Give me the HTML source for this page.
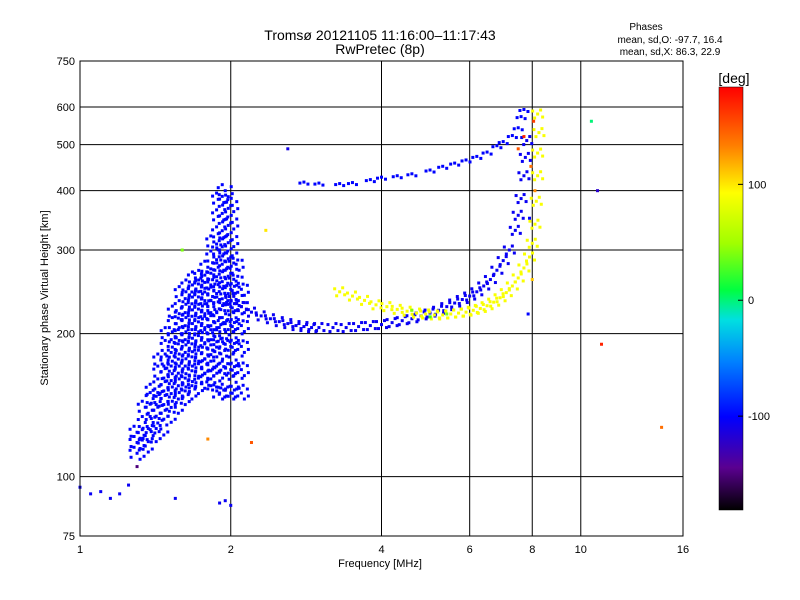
<!DOCTYPE html>
<html><head><meta charset="utf-8"><style>
body{margin:0;background:#fff}
svg{display:block;font-family:"Liberation Sans",sans-serif}
</style></head><body>
<svg id="c" width="800" height="600" viewBox="0 0 800 600">
<defs><linearGradient id="cb" x1="0" y1="1" x2="0" y2="0">
<stop offset="0" stop-color="#000"/><stop offset="0.1" stop-color="#5a0090"/><stop offset="0.22" stop-color="#0000ff"/><stop offset="0.35" stop-color="#0080ff"/><stop offset="0.45" stop-color="#00e0e0"/><stop offset="0.52" stop-color="#00ff40"/><stop offset="0.63" stop-color="#a0ff00"/><stop offset="0.75" stop-color="#ffff00"/><stop offset="0.86" stop-color="#ff8000"/><stop offset="1" stop-color="#ff0000"/>
</linearGradient></defs>
<text x="380" y="40" font-size="14" text-anchor="middle">Tromsø 20121105 11:16:00–11:17:43</text>
<text x="380" y="54" font-size="14" text-anchor="middle">RwPretec (8p)</text>
<g font-size="10" text-anchor="middle">
<text x="646" y="30">Phases</text>
<text x="670" y="43">mean, sd,O: -97.7, 16.4</text>
<text x="670" y="55">mean, sd,X:  86.3, 22.9</text>
</g>
<g id="grid"></g>
<g id="pts"></g>
<rect x="80" y="61" width="603" height="475" fill="none" stroke="#000"/>
<g id="ticks" font-size="11"></g>
<text x="380" y="567" font-size="11" text-anchor="middle">Frequency [MHz]</text>
<text transform="translate(48,298) rotate(-90)" font-size="11" text-anchor="middle">Stationary phase Virtual Height [km]</text>
<rect x="719" y="87" width="24" height="423" fill="url(#cb)" stroke="#000" stroke-width="0.5"/>
<text x="734" y="83" font-size="14" text-anchor="middle">[deg]</text>
<g id="cbt" font-size="11"></g>
</svg>
<script>
const xTicks=[1,2,4,6,8,10,16];
const yTicks=[75,100,200,300,400,500,600,750];
const xGrid=[2,4,6,8,10];
const yGrid=[100,200,300,400,500,600];
const cbTicks=[100,0,-100];
const blobF=[1.3,1.35,1.4,1.45,1.5,1.55,1.6,1.65,1.7,1.75,1.8,1.85,1.9,1.95,2.0,2.05,2.1];
const blobH=[[112,118,124],[116,122,130,140],[122,130,138,146,152],[126,136,146,156,166,176],[134,144,154,164,176,188,200],[140,150,160,170,182,196,210,222],[146,156,166,176,188,200,214,228,244],[150,160,172,184,196,210,224,238,252],[154,166,178,190,204,218,232,246,262],[158,170,182,196,210,224,238,252,264],[160,172,186,200,214,228,242,258,276],[156,170,184,198,212,228,246,266,290,312],[150,166,182,198,216,236,256,278,300,326,354,384],[152,170,190,210,230,250,272,296,320,348,378,400],[150,168,188,208,228,248,268,290,314,342,372],[158,176,196,216,236,258,280],[150,168,188,208,228,248]];
const lowF=[2.0,2.1,2.2,2.3,2.4,2.5,2.6,2.7,2.8,2.9,3.0,3.2,3.4,3.6,3.8,4.0,4.2,4.4,4.6,4.8,5.0,5.2,5.4,5.6,5.8,6.0,6.2,6.4,6.6,6.8,7.0,7.2,7.4,7.5,7.6,7.7,7.75,7.8];
const lowH=[235,228,222,218,215,212,210,208,207,206,206,206,206,207,208,209,211,213,215,218,221,224,228,232,236,240,245,252,260,272,285,300,330,355,385,430,470,510];
const yelF=[3.3,3.5,3.7,3.9,4.1,4.3,4.5,4.7,4.9,5.1,5.3,5.5,5.7,5.9,6.1,6.3,6.5,6.7,6.9,7.1,7.3,7.5,7.7,7.9,8.0,8.1,8.15,8.2,8.2,8.25,8.2];
const yelH=[245,240,235,230,228,225,223,221,220,219,219,220,221,222,224,226,229,233,238,244,252,262,275,290,310,340,380,430,480,530,580];
const upF=[2.8,3.0,3.3,3.5,3.8,4.0,4.3,4.6,5.0,5.3,5.6,5.9,6.2,6.5,6.8,7.0,7.3,7.5,7.6,7.7];
const upH=[415,413,412,414,420,425,428,432,440,448,455,462,470,480,495,505,520,540,570,590];
const miscF=[1.0,1.05,1.1,1.15,1.2,1.25,1.9,1.95,2.0,1.55,2.6,2.35,1.6,1.3,1.8,2.2,7.9,8.0,7.85,8.1,7.95,8.05,10.5,11,10.8,14.5,7.5,7.7,4.6,5.0,5.4];
const miscH=[95,92,93,90,92,96,88,89,87,90,490,330,300,105,120,118,350,260,220,400,450,560,560,190,400,127,490,520,224,217,220];
const miscP=[-105,-105,-105,-105,-105,-105,-105,-105,-105,-105,-110,100,40,-150,130,150,-100,110,-100,130,140,160,0,170,-120,140,150,170,40,20,40];
const blobP=-100, lowP=-105, yelP=90, upP=-100;

const X=f=>80+150.75*Math.log2(f);
const Y=h=>536-475*Math.log10(h/75);
const stops=[[0,[0,0,0]],[0.1,[90,0,144]],[0.22,[0,0,255]],[0.35,[0,128,255]],[0.45,[0,224,224]],[0.52,[0,255,64]],[0.63,[160,255,0]],[0.75,[255,255,0]],[0.86,[255,128,0]],[1,[255,0,0]]];
function col(p){let t=(p+181)/365;t=Math.max(0,Math.min(1,t));for(let i=1;i<stops.length;i++){if(t<=stops[i][0]){const a=stops[i-1],b=stops[i],u=(t-a[0])/(b[0]-a[0]);return 'rgb('+a[1].map((v,k)=>Math.round(v+(b[1][k]-v)*u)).join(',')+')';}}return 'red';}
const NS='http://www.w3.org/2000/svg';
function mk(tag,attrs,parent){const e=document.createElementNS(NS,tag);for(const k in attrs)e.setAttribute(k,attrs[k]);parent.appendChild(e);return e;}
const g=document.getElementById('grid'),pts=document.getElementById('pts'),tk=document.getElementById('ticks'),cbt=document.getElementById('cbt');
xGrid.forEach(v=>{const e=mk('line',{x1:X(v),x2:X(v),y1:61,y2:536,stroke:'#000'},g);

});
yGrid.forEach(v=>{const e=mk('line',{x1:80,x2:683,y1:Y(v),y2:Y(v),stroke:'#000'},g);

});
xTicks.forEach(v=>{const e=mk('text',{x:X(v),y:553,'text-anchor':'middle'},tk);e.textContent=v;

});
yTicks.forEach(v=>{const e=mk('text',{x:75,y:Y(v)+4,'text-anchor':'end'},tk);e.textContent=v;

});
cbTicks.forEach(v=>{const y=510-(v+181)/365*423;mk('line',{x1:743,x2:738,y1:y,y2:y,stroke:'#000'},cbt);const e=mk('text',{x:748,y:y+4},cbt);e.textContent=v;

});
function sq(x,y,s,c,name){const e=mk('rect',{x:x-s/2,y:y-s/2,width:s,height:s,fill:c},pts);

}
const blobOff=[[0,0],[-6,4],[6,-4],[3,6],[-3,-6],[-7,-3],[7,3]];
blobF.forEach((f,i)=>blobH[i].forEach(h=>{blobOff.forEach(o=>sq(X(f)+o[0],Y(h)+o[1],3,col(blobP),'blob-point'));}));
const trOff=[[-5,-3],[0,0],[5,3],[-3,4],[3,-4]];
lowF.forEach((f,i)=>trOff.forEach(o=>sq(X(f)+o[0],Y(lowH[i])+o[1],3,col(lowP),'low-trace-point')));
yelF.forEach((f,i)=>trOff.forEach(o=>sq(X(f)+o[0],Y(yelH[i])+o[1],3,col(yelP),'x-trace-point')));
upF.forEach((f,i)=>[[-4,0],[0,-1],[4,1]].forEach(o=>sq(X(f)+o[0],Y(upH[i])+o[1],3,col(upP),'upper-trace-point')));
miscF.forEach((f,i)=>sq(X(f),Y(miscH[i]),3,col(miscP[i]),'data-point'));
</script>
</body></html>
